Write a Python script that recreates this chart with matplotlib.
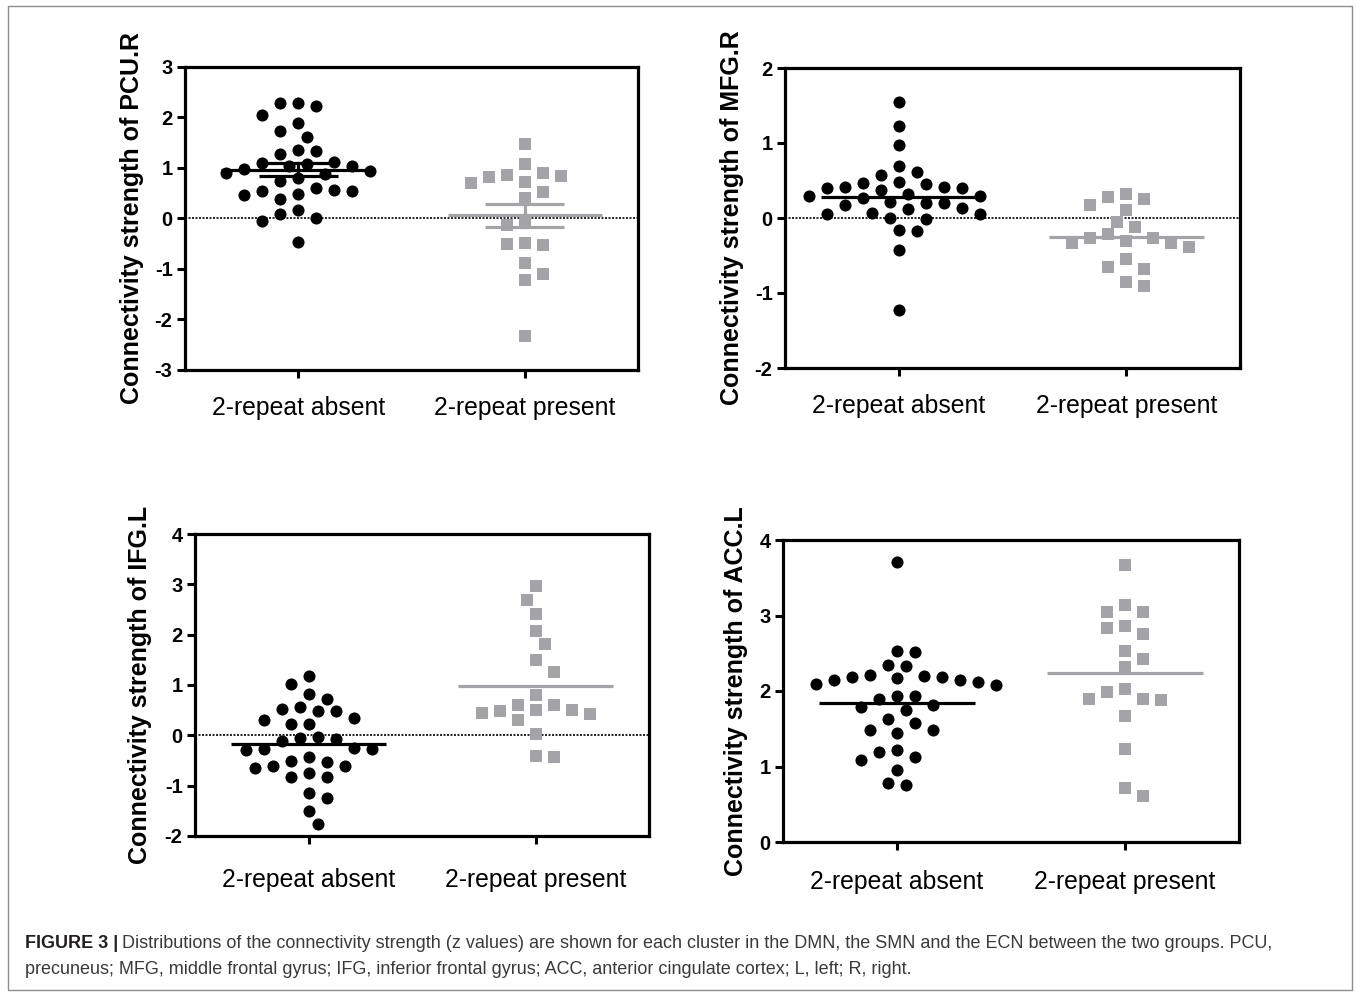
import numpy as np
import matplotlib
matplotlib.use("Agg")
import matplotlib.pyplot as plt
from matplotlib.patches import Rectangle

plt.rcParams['font.family'] = ['Liberation Sans', 'DejaVu Sans']

# ---------------- data ----------------
categories = ["2-repeat absent", "2-repeat present"]

pcu_absent = [2.28, 2.22, 2.28, 2.05, 1.89, 1.74, 1.62, 1.35, 1.28, 1.33, 0.98, 1.04,
              1.12, 1.10, 1.07, 1.04, 0.94, 0.91, 0.88, 0.80, 0.75, 0.60, 0.55, 0.49,
              0.38, 0.46, 0.54, 0.56, 0.17, 0.00, -0.04, 0.08, -0.46]
pcu_present = [1.48, 0.90, 0.85, 0.71, 0.82, 0.86, 1.07, 0.72, 0.53, 0.41, -0.02, -0.13,
               -0.48, -0.53, -0.51, -0.88, -1.10, -1.21, -2.33]

mfg_absent = [1.55, 1.23, 0.98, 0.69, 0.57, 0.62, 0.48, 0.45, 0.41, 0.40, 0.47, 0.40,
              0.41, 0.37, 0.30, 0.27, 0.29, 0.32, 0.20, 0.17, 0.13, 0.20, 0.21, 0.06,
              -0.01, 0.07, 0.12, 0.00, 0.06, -0.17, -0.16, -0.42, -1.22]
mfg_present = [0.32, 0.28, 0.18, 0.25, 0.11, -0.05, -0.12, -0.21, -0.27, -0.33, -0.39,
               -0.33, -0.30, -0.26, -0.55, -0.68, -0.65, -0.91, -0.85]

ifg_absent = [1.17, 1.02, 0.73, 0.82, 0.57, 0.48, 0.34, 0.22, 0.30, 0.48, 0.53, 0.23,
              -0.12, -0.06, -0.03, -0.08, -0.28, -0.29, -0.28, -0.26, -0.44, -0.51,
              -0.53, -0.61, -0.64, -0.61, -0.75, -0.83, -0.83, -1.14, -1.24, -1.50, -1.77]
ifg_present = [2.97, 2.69, 2.42, 2.08, 1.82, 1.49, 1.26, 0.80, 0.60, 0.51, 0.48, 0.30,
               0.42, 0.45, 0.50, 0.60, 0.02, -0.44, -0.42]

acc_absent = [3.71, 2.53, 2.51, 2.35, 2.33, 2.18, 2.14, 2.12, 2.20, 2.18, 2.21, 2.14,
              2.17, 2.08, 2.09, 1.94, 1.90, 1.94, 1.79, 1.75, 1.82, 1.63, 1.58, 1.49,
              1.45, 1.48, 1.22, 1.13, 1.09, 1.19, 0.96, 0.76, 0.78]
acc_present = [3.67, 3.14, 3.04, 3.04, 2.86, 2.84, 2.76, 2.53, 2.42, 2.32, 2.02, 1.90,
               1.99, 1.88, 1.90, 1.67, 1.23, 0.61, 0.71]

ylabels = ["Connectivity strength of PCU.R", "Connectivity strength of MFG.R",
           "Connectivity strength of IFG.L", "Connectivity strength of ACC.L"]
ylims = [(-3, 3), (-2, 2), (-2, 4), (0, 4)]
yticks = [[-3, -2, -1, 0, 1, 2, 3], [-2, -1, 0, 1, 2], [-2, -1, 0, 1, 2, 3, 4], [0, 1, 2, 3, 4]]

caption_bold = "FIGURE 3 |"
caption_rest = ("Distributions of the connectivity strength (z values) are shown for each cluster "
                "in the DMN, the SMN and the ECN between the two groups. PCU,")
caption_line2 = ("precuneus; MFG, middle frontal gyrus; IFG, inferior frontal gyrus; ACC, "
                 "anterior cingulate cortex; L, left; R, right.")

# ---------------- layout ----------------
W, H = 1356, 993
fig = plt.figure(figsize=(W / 100, H / 100), dpi=100)

# axes boxes in pixels: left, right, top, bottom
boxes = [(185, 638, 67, 370), (785, 1240, 68, 368), (195, 649, 534, 836), (783, 1239, 540, 842)]
label_x_px = [144, 744, 152, 748]
xlabel_pad = [13, 13, 17, 14]
groups = [(pcu_absent, pcu_present), (mfg_absent, mfg_present),
          (ifg_absent, ifg_present), (acc_absent, acc_present)]
show_sem = [True, False, False, False]

BLACK = "#000000"
GREY = "#a4a4a8"


def swarm_offsets(vals, px_per_x, px_per_y, step_px=9.0, diam_px=15.0):
    vals = np.asarray(vals, float)
    ypx = vals * px_per_y
    order = np.argsort(-vals, kind="stable")
    placed = []
    offs = np.zeros(len(vals))
    cands = [0]
    for k in range(1, 40):
        cands += [k, -k]
    flip = 1
    for i in order:
        for k in cands:
            xo = k * step_px * flip
            ok = True
            for (px, py) in placed:
                if (xo - px) ** 2 + (ypx[i] - py) ** 2 < diam_px ** 2 - 1e-6:
                    ok = False
                    break
            if ok:
                break
        placed.append((xo, ypx[i]))
        offs[i] = xo
        flip = -flip
    return offs / px_per_x


for idx, (box, grp) in enumerate(zip(boxes, groups)):
    l, r, t, b = box
    ax = fig.add_axes([l / W, 1 - b / H, (r - l) / W, (b - t) / H])
    y0, y1 = ylims[idx]
    ax.set_xlim(-0.5, 1.5)
    ax.set_ylim(y0, y1)
    px_per_x = (r - l) / 2.0
    px_per_y = (b - t) / (y1 - y0)

    if y0 < 0 < y1:
        ax.axhline(0, color="black", lw=1.2, ls=(0, (1.2, 0.9)), zorder=1)

    for gi, (vals, col, mk, ms) in enumerate([(grp[0], BLACK, "o", 8.7), (grp[1], GREY, "s", 9.0)]):
        offs = swarm_offsets(vals, px_per_x, px_per_y)
        ax.scatter(gi + offs, vals, s=ms ** 2, marker=mk, color=col, linewidths=0, zorder=3)
        m = np.mean(vals)
        ax.plot([gi - 0.34, gi + 0.34], [m, m], color=col, lw=2.3, zorder=4, solid_capstyle="butt")
        if show_sem[idx]:
            se = np.std(vals, ddof=1) / np.sqrt(len(vals))
            ax.plot([gi - 0.175, gi + 0.175], [m + se, m + se], color=col, lw=2.3, zorder=4,
                    solid_capstyle="butt")
            ax.plot([gi - 0.175, gi + 0.175], [m - se, m - se], color=col, lw=2.3, zorder=4,
                    solid_capstyle="butt")
            ax.plot([gi, gi], [m - se, m + se], color=col, lw=2.3, zorder=4)

    ax.set_xticks([0, 1])
    ax.set_xticklabels(categories, fontsize=17.8)
    ax.set_yticks(yticks[idx])
    ax.set_yticklabels([str(v) for v in yticks[idx]], fontsize=14.5, fontweight="bold")
    ax.tick_params(axis="both", direction="out", length=6, width=2.2, color="black")
    ax.tick_params(axis="x", pad=xlabel_pad[idx])
    ax.tick_params(axis="y", pad=3)
    for sp in ax.spines.values():
        sp.set_linewidth(2.3)
        sp.set_color("black")
    ax.set_ylabel(ylabels[idx], fontsize=18, fontweight="bold")
    ax.yaxis.set_label_coords((label_x_px[idx] - l) / (r - l), 0.5)

# outer frame
fig.patches.append(Rectangle((8 / W, 3 / H), (1352 - 8) / W, (987 - 3) / H, transform=fig.transFigure,
                             fill=False, edgecolor="#8c8c8c", lw=1.0))

# caption
renderer = fig.canvas.get_renderer()
tb = fig.text(25 / W, 1 - 943 / H, caption_bold, fontsize=13, fontweight="bold", color="#231f20",
              va="center", ha="left")
bb = tb.get_window_extent(renderer=renderer)
fig.text((bb.x1 + 4) / W, 1 - 943 / H, caption_rest, fontsize=13, color="#3a3a3a",
         va="center", ha="left")
fig.text(25 / W, 1 - 969 / H, caption_line2, fontsize=13, color="#3a3a3a", va="center", ha="left")

fig.savefig("out.png", dpi=100)
